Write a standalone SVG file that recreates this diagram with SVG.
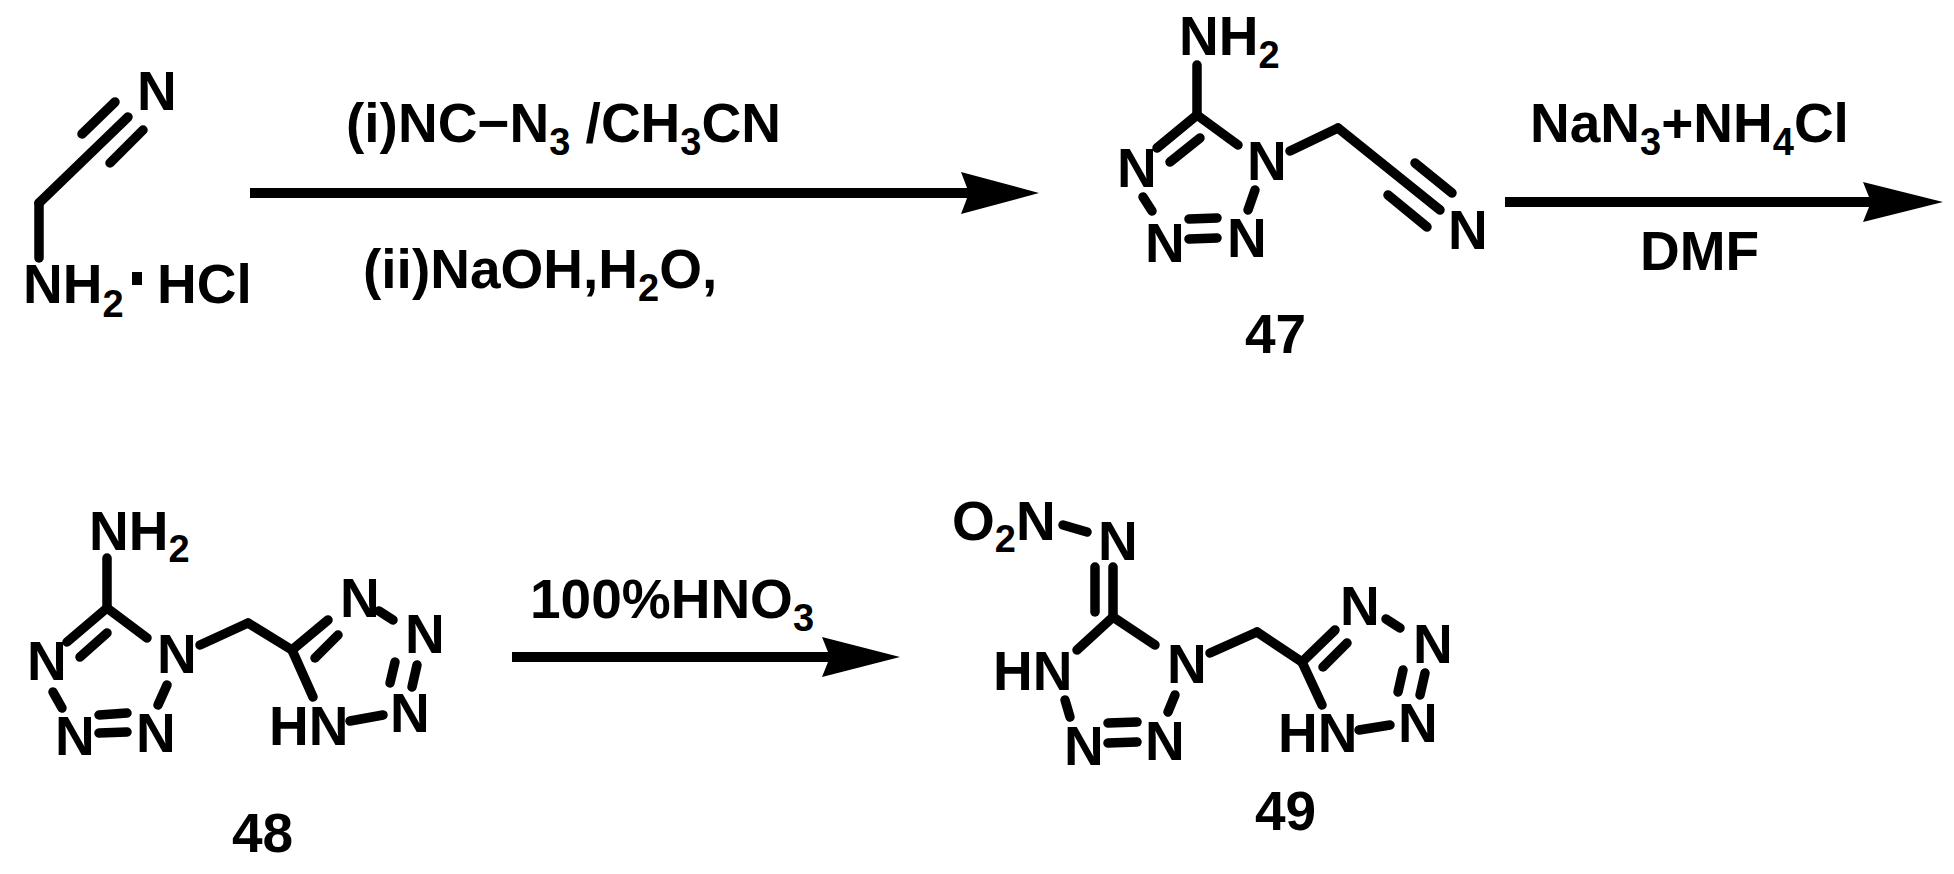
<svg xmlns="http://www.w3.org/2000/svg" width="1954" height="874" viewBox="0 0 1954 874">
<style>
text{font-family:"Liberation Sans",Arial,sans-serif;font-weight:bold;font-size:55px;fill:#000}
.s{font-size:38px}
.b line,.b path{stroke:#000;stroke-width:9.5;stroke-linecap:round;fill:none}
.ar line{stroke:#000;stroke-width:10}
.ar path{fill:#000}
</style>
<rect width="1954" height="874" fill="#fff"/>
<g id="sm" class="b">
<line x1="39" y1="258" x2="39" y2="203"/><line x1="39" y1="203" x2="128" y2="117"/>
<line x1="82" y1="134" x2="115" y2="102"/><line x1="110" y1="163" x2="143" y2="130"/>
<text x="137" y="110">N</text>
<text x="23" y="303">NH<tspan class="s" dy="14">2</tspan></text>
<rect x="132" y="272" width="10" height="13" fill="#000"/>
<text x="157" y="303">HCl</text>
</g>
<g id="c47" class="b">
<line x1="1197" y1="65" x2="1197" y2="115"/><line x1="1197" y1="115" x2="1238" y2="145"/>
<line x1="1197" y1="115" x2="1157" y2="148"/><line x1="1200" y1="138" x2="1170" y2="162"/>
<line x1="1143" y1="197" x2="1152" y2="211"/>
<line x1="1189" y1="219" x2="1217" y2="218"/><line x1="1189" y1="239" x2="1217" y2="238"/>
<line x1="1248" y1="210" x2="1255" y2="190"/>
<line x1="1290" y1="151" x2="1338" y2="128"/><line x1="1338" y1="128" x2="1440" y2="210"/>
<line x1="1415" y1="163" x2="1452" y2="193"/><line x1="1388" y1="195" x2="1427" y2="227"/>
<text x="1179" y="55">NH<tspan class="s" dy="13">2</tspan></text>
<text x="1117" y="187">N</text><text x="1247" y="180">N</text>
<text x="1145" y="262">N</text><text x="1227" y="257">N</text>
<text x="1448" y="249">N</text>
<text x="1245" y="353">47</text>
</g>
<g id="c48" class="b">
<line x1="107" y1="558" x2="107" y2="608"/><line x1="107" y1="608" x2="147" y2="638"/>
<line x1="107" y1="608" x2="67" y2="642"/><line x1="107" y1="633" x2="80" y2="657"/>
<line x1="53" y1="692" x2="62" y2="708"/>
<line x1="99" y1="715" x2="127" y2="713"/><line x1="99" y1="733" x2="127" y2="732"/>
<line x1="158" y1="705" x2="167" y2="685"/>
<line x1="200" y1="645" x2="248" y2="623"/><line x1="248" y1="623" x2="292" y2="650"/>
<line x1="292" y1="650" x2="328" y2="620"/><line x1="315" y1="658" x2="338" y2="635"/>
<line x1="379" y1="611" x2="393" y2="620"/>
<line x1="395" y1="662" x2="390" y2="683"/><line x1="417" y1="665" x2="412" y2="687"/>
<line x1="383" y1="715" x2="350" y2="721"/>
<line x1="292" y1="650" x2="313" y2="697"/>
<text x="89" y="550">NH<tspan class="s" dy="12">2</tspan></text>
<text x="27" y="680">N</text><text x="157" y="673">N</text>
<text x="55" y="755">N</text><text x="136" y="752">N</text>
<text x="340" y="617">N</text><text x="405" y="653">N</text>
<text x="390" y="732">N</text><text x="269" y="745">HN</text>
<text x="232" y="852">48</text>
</g>
<g id="c49" class="b">
<line x1="1063" y1="525" x2="1087" y2="532"/>
<line x1="1095" y1="567" x2="1095" y2="612"/><line x1="1113" y1="567" x2="1113" y2="617"/>
<line x1="1113" y1="617" x2="1077" y2="650"/><line x1="1113" y1="617" x2="1155" y2="645"/>
<line x1="1065" y1="700" x2="1070" y2="717"/>
<line x1="1108" y1="723" x2="1137" y2="722"/><line x1="1108" y1="743" x2="1137" y2="742"/>
<line x1="1168" y1="712" x2="1175" y2="695"/>
<line x1="1210" y1="653" x2="1257" y2="632"/><line x1="1257" y1="632" x2="1302" y2="662"/>
<line x1="1302" y1="662" x2="1335" y2="630"/><line x1="1323" y1="667" x2="1347" y2="643"/>
<line x1="1386" y1="619" x2="1400" y2="628"/>
<line x1="1403" y1="670" x2="1398" y2="692"/><line x1="1425" y1="673" x2="1420" y2="695"/>
<line x1="1390" y1="725" x2="1359" y2="730"/>
<line x1="1302" y1="662" x2="1322" y2="705"/>
<text x="952" y="540">O<tspan class="s" dy="12">2</tspan><tspan dy="-12">N</tspan></text>
<text x="1098" y="560">N</text>
<text x="993" y="690">HN</text><text x="1167" y="683">N</text>
<text x="1064" y="765">N</text><text x="1145" y="760">N</text>
<text x="1340" y="625">N</text><text x="1413" y="663">N</text>
<text x="1398" y="742">N</text><text x="1278" y="752">HN</text>
<text x="1255" y="830">49</text>
</g>
<g id="connectors" class="ar">
<line x1="250" y1="193" x2="975" y2="193"/><path d="M1039,193 L961,172 L969,193 L961,214 Z"/>
<line x1="1505" y1="202" x2="1875" y2="202"/><path d="M1943,202 L1863,182 L1871,202 L1863,222 Z"/>
<line x1="512" y1="657" x2="835" y2="657"/><path d="M900,657 L822,637 L830,657 L822,677 Z"/>
</g>
<g id="labels">
<text x="346" y="142">(i)NC−N<tspan class="s" dy="13">3</tspan><tspan dy="-13"> /CH</tspan><tspan class="s" dy="13">3</tspan><tspan dy="-13">CN</tspan></text>
<text x="363" y="288">(ii)NaOH,H<tspan class="s" dy="13">2</tspan><tspan dy="-13">O,</tspan></text>
<text x="1530" y="142">NaN<tspan class="s" dy="13">3</tspan><tspan dy="-13">+NH</tspan><tspan class="s" dy="13">4</tspan><tspan dy="-13">Cl</tspan></text>
<text x="1640" y="270">DMF</text>
<text x="530" y="618">100%HNO<tspan class="s" dy="13">3</tspan></text>
</g>
</svg>
